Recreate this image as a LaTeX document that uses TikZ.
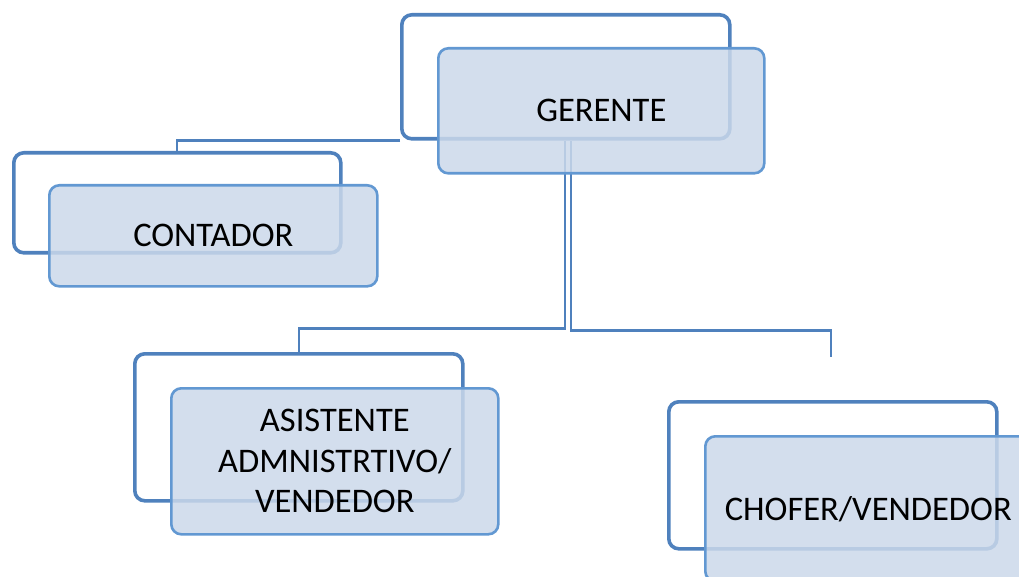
\documentclass[tikz,border=0pt]{standalone}
\usepackage{fontspec}
\setmainfont{Carlito}
\definecolor{backc}{RGB}{79,129,189}
\definecolor{frontc}{RGB}{98,152,210}
\definecolor{frontfill}{RGB}{203,216,234}
\begin{document}
\begin{tikzpicture}[x=1pt,y=-1pt,
  backbox/.style={draw=backc, line width=3.6pt, rounded corners=10pt, anchor=north west, inner sep=0pt},
  frontbox/.style={draw=frontc, line width=2.6pt, rounded corners=10pt, anchor=north west, inner sep=0pt,
    fill=frontfill, fill opacity=0.85, text opacity=1, align=center,
    font=\fontsize{34.5}{40.5}\selectfont},
  conn/.style={draw=backc, line width=2.3pt}]
\useasboundingbox (0,0) rectangle (1019,577);
\clip (0,0) rectangle (1019,577);
% back boxes
\node[backbox, minimum width=328pt, minimum height=124pt] (gb) at (400,13) {};
\node[backbox, minimum width=327pt, minimum height=100pt] (cb) at (12,151) {};
\node[backbox, minimum width=328pt, minimum height=147pt] (ab) at (133,352) {};
\node[backbox, minimum width=328pt, minimum height=147pt] (hb) at (667,400) {};
% connectors
\coordinate (hend) at (831,357);
\draw[conn] (gb.south west) -| (cb.north);
\draw[conn] ([xshift=-1pt]gb.south) -- ++(0,188) -| (ab.north);
\draw[conn] ([xshift=5pt]gb.south) -- ++(0,190) -| (hend);
% front boxes
\node[frontbox, minimum width=326pt, minimum height=125pt] (gf) at (437,47) {GERENTE};
\node[frontbox, minimum width=328pt, minimum height=101pt] (cf) at (48,184) {CONTADOR};
\node[frontbox, minimum width=327pt, minimum height=146pt] (af) at (170,387) {ASISTENTE\\ADMNISTRTIVO/\\VENDEDOR};
\node[frontbox, minimum width=326pt, minimum height=145pt] (hf) at (704,435) {CHOFER/VENDEDOR};
\end{tikzpicture}
\end{document}
